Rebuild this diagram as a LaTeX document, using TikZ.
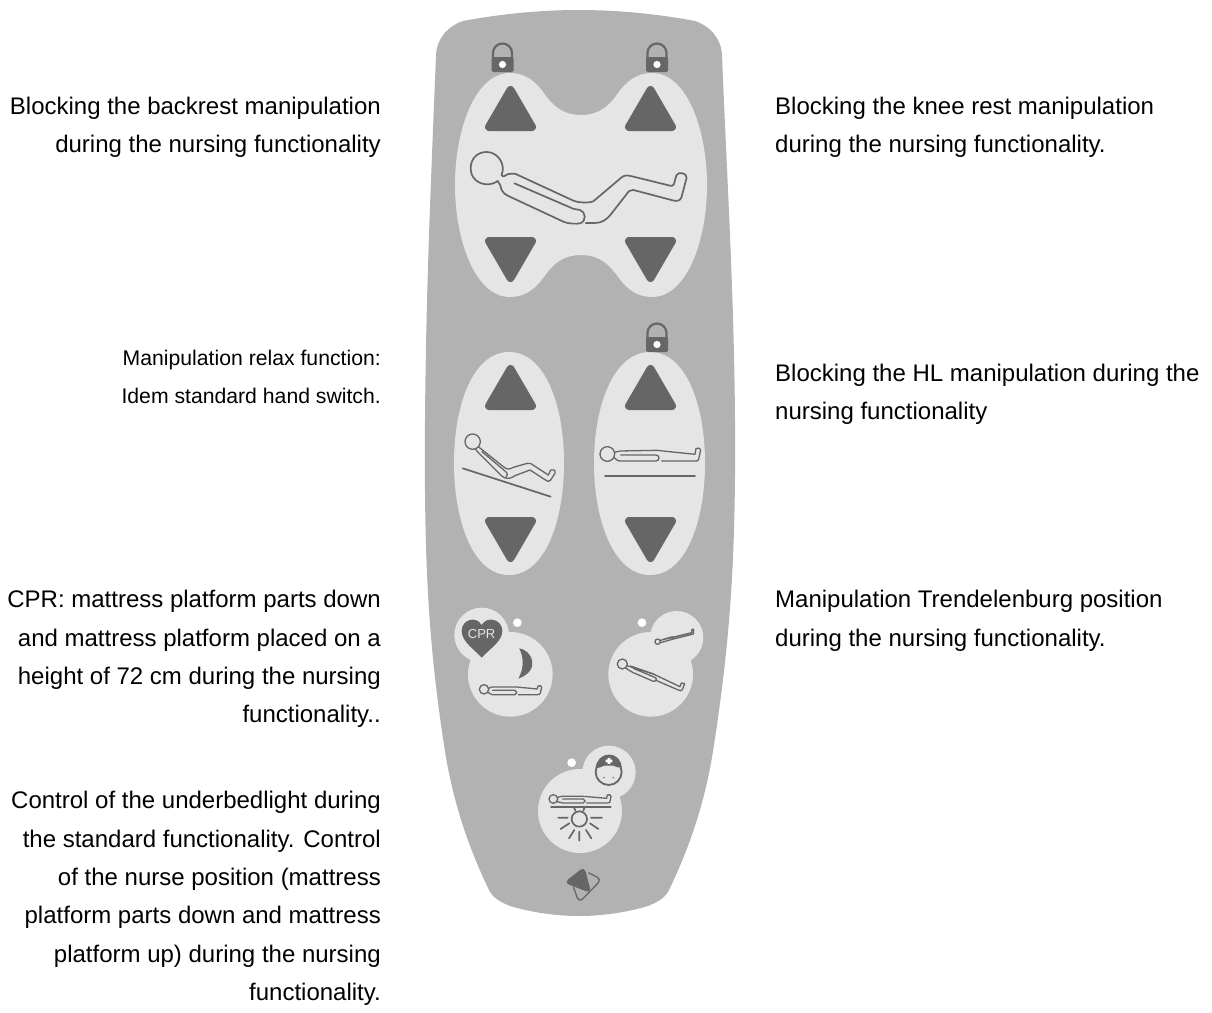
\documentclass[tikz,border=0pt]{standalone}
\usepackage{fontspec}
\setmainfont{Liberation Sans}
\definecolor{panelc}{HTML}{B2B2B2}
\definecolor{padc}{HTML}{E5E5E5}
\definecolor{darkc}{HTML}{666666}
\tikzset{
  lbl/.style={text=black,inner sep=0pt,font=\fontsize{24}{38.4}\selectfont},
  lblr/.style={lbl,anchor=north east,align=right},
  lbll/.style={lbl,anchor=north west,align=left},
  lblsmall/.style={lblr,font=\fontsize{21.2}{38.4}\selectfont},
  pad/.style={fill=padc,draw=none},
  led/.style={fill=white,draw=none},
  tri/.style={fill=darkc,draw=darkc,line width=8pt,line join=round},
  fig/.style={draw=darkc,line width=1.7pt,line cap=round,line join=round,fill=none},
  figthin/.style={draw=darkc,line width=1.3pt,line cap=round,line join=round,fill=none},
  z1/.style={shift={(420,0)},x=0.3333pt,y=-0.3333pt},
  z2/.style={shift={(420,310)},x=0.3333pt,y=-0.3333pt},
  z3/.style={shift={(420,590)},x=0.3333pt,y=-0.3333pt},
}
\newcommand{\uptri}[2]{\draw[tri] (#1,#2+4) -- (#1+21.5,#2+41) -- (#1-21.5,#2+41) -- cycle;}
\newcommand{\dntri}[2]{\draw[tri] (#1,#2-4) -- (#1+21.5,#2-41) -- (#1-21.5,#2-41) -- cycle;}
\newcommand{\padlock}[2]{%
  \draw[darkc,line width=2.2pt] (#1-9.5,#2+16) -- (#1-9.5,#2+11) arc[start angle=180,end angle=360,radius=9.5] -- (#1+9.5,#2+16);
  \fill[darkc,rounded corners=1.5pt] (#1-11,#2+15) rectangle (#1+11,#2+30);
  \fill[white] (#1,#2+22.5) circle[radius=3.6];}
\begin{document}
\begin{tikzpicture}[x=1pt,y=-1pt]
\useasboundingbox (0,0) rectangle (1212,1012);
% panel
\fill[panelc] (579,10) .. controls (535,10) and (495,15) .. (463,21)
  .. controls (448,26) and (437,38) .. (436,55)
  .. controls (431,180) and (426,290) .. (425,420)
  .. controls (424,560) and (428,640) .. (444,745)
  .. controls (453,805) and (470,850) .. (488,888)
  .. controls (492,897) and (498,901) .. (510,906)
  .. controls (530,912) and (555,916) .. (579,916)
  .. controls (603,916) and (628,912) .. (648,906)
  .. controls (660,901) and (666,897) .. (670,888)
  .. controls (688,850) and (705,805) .. (714,745)
  .. controls (730,640) and (736,560) .. (735,420)
  .. controls (734,290) and (727,180) .. (722,55)
  .. controls (721,38) and (710,26) .. (695,21)
  .. controls (663,15) and (623,10) .. (579,10) -- cycle;
% top pad
\fill[pad] (581,115) .. controls (565,115) and (555,108) .. (546,96)
  .. controls (536,81) and (525,73) .. (510,73)
  .. controls (475,73) and (455,130) .. (455,185)
  .. controls (455,240) and (475,297) .. (510,297)
  .. controls (525,297) and (536,289) .. (546,274)
  .. controls (555,262) and (565,255) .. (581,255)
  .. controls (597,255) and (607,262) .. (616,274)
  .. controls (626,289) and (637,297) .. (652,297)
  .. controls (687,297) and (707,240) .. (707,185)
  .. controls (707,130) and (687,73) .. (652,73)
  .. controls (637,73) and (626,81) .. (616,96)
  .. controls (607,108) and (597,115) .. (581,115) -- cycle;
% oval pads
\fill[pad] (509,352) .. controls (545,352) and (564,405) .. (564,463) .. controls (564,521) and (545,575) .. (509,575) .. controls (473,575) and (454,521) .. (454,463) .. controls (454,405) and (473,352) .. (509,352) -- cycle;
\fill[pad] (650,352) .. controls (686,352) and (705,405) .. (705,463) .. controls (705,521) and (686,575) .. (650,575) .. controls (614,575) and (594,521) .. (594,463) .. controls (594,405) and (614,352) .. (650,352) -- cycle;
% locks
\padlock{502.5}{42}
\padlock{657}{42}
\padlock{657}{322}
% triangles
\uptri{510.5}{86}\uptri{650.5}{86}
\dntri{510.5}{282}\dntri{650.5}{282}
\uptri{510.5}{365}\uptri{650.5}{365}
\dntri{510.5}{562}\dntri{650.5}{562}
% large figure
\begin{scope}[z1]
\draw[fig] (233,543) .. controls (225,549) and (215,553) .. (200,553) .. controls (175,552) and (152,535) .. (152,505) .. controls (152,478) and (170,456) .. (200,456) .. controls (232,456) and (258,490) .. (245,525) .. controls (250,535) and (255,525) .. (265,522) -- (285,521) -- (460,602) .. controls (475,608) and (505,610) .. (520,604) -- (605,532) .. controls (615,525) and (620,526) .. (632,528) -- (750,557) .. controls (762,560) and (763,550) .. (765,540) -- (770,525) .. controls (775,515) and (800,518) .. (800,533) -- (785,590) .. controls (782,603) and (770,605) .. (758,601) -- (640,570) .. controls (630,568) and (625,575) .. (618,585) -- (575,640) .. controls (560,660) and (545,669) .. (525,669) -- (497,669);
\draw[fig] (233,543) .. controls (242,550) and (240,560) .. (245,570) .. controls (250,580) and (255,583) .. (265,588) -- (430,665) .. controls (445,672) and (470,672) .. (480,670) .. controls (500,665) and (498,635) .. (480,630) .. controls (470,628) and (460,628) .. (450,622) -- (283,550);
\end{scope}
\begin{scope}[z2]
\draw[figthin] (158,395) circle[radius=23];
\draw[figthin] (176,411) -- (250,470) .. controls (262,480) and (270,478) .. (280,472) -- (322,460) .. controls (330,458) and (335,462) .. (342,467) -- (385,495) -- (392,480) .. controls (398,476) and (408,480) .. (405,490) -- (392,510) .. controls (388,516) and (383,515) .. (378,511) -- (330,480) -- (285,497) .. controls (275,505) and (258,510) .. (245,498) -- (175,428) -- (166,417);
\draw[figthin] (186,425) -- (255,483) .. controls (265,490) and (262,498) .. (258,502);
\draw[fig] (128,475) -- (392,560);
\draw[figthin] (562,432) circle[radius=22];
\draw[figthin] (584,427) -- (600,423) -- (710,421) -- (825,433) -- (828,416) .. controls (832,412) and (842,414) .. (842,420) -- (836,448) .. controls (835,452) and (832,453) .. (828,453) -- (725,453);
\draw[figthin] (581,442) .. controls (590,445) and (588,453) .. (600,453) -- (708,453) .. controls (720,452) and (720,436) .. (708,435) -- (602,435);
\draw[fig] (555,498) -- (825,498);
\end{scope}
\begin{scope}[z3]
% CPR pad
\fill[pad] (185,135) circle[radius=82];
\fill[pad] (271,253) circle[radius=127];
\fill[pad] (225,150) -- (280,150) -- (200,240) -- (170,200) -- cycle;
\fill[darkc] (185,203) .. controls (160,175) and (125,155) .. (125,122) .. controls (125,90) and (168,75) .. (185,105) .. controls (202,75) and (247,90) .. (247,122) .. controls (247,155) and (210,175) .. (185,203) -- cycle;
\node[inner sep=0pt,text=padc,font=\fontsize{13}{13}\selectfont] (cprtext) at (185,131) {CPR};
\fill[darkc] (298,175) .. controls (335,180) and (365,240) .. (295,266) .. controls (312,235) and (312,205) .. (298,175) -- cycle;
\fill[led] (292,98) circle[radius=13];
\draw[figthin] (192,298) circle[radius=14];
\draw[figthin] (206,295) -- (215,291) -- (290,291) -- (352,297) -- (354,288) .. controls (358,286) and (366,287) .. (365,292) -- (361,309) .. controls (360,313) and (357,314) .. (352,314) -- (295,314);
\draw[figthin] (204,306) .. controls (210,310) and (210,314) .. (218,314) -- (285,314) .. controls (292,313) and (292,302) .. (285,301) -- (218,301);
% tilt pad
\fill[pad] (770,143) circle[radius=80];
\fill[pad] (692,253) circle[radius=127];
\fill[pad] (700,135) -- (760,215) -- (810,215) -- (790,150) -- cycle;
\fill[led] (666,98) circle[radius=13];
\draw[figthin] (713,155) circle[radius=8];
\draw[figthin] (721,151) -- (815,128) -- (816,118) -- (821,118) -- (820,132) -- (760,147) (722,158) -- (760,147) -- (758,140) -- (730,148);
\draw[figthin] (607,222) circle[radius=15];
\draw[figthin] (621,227) -- (700,252) -- (780,290) -- (784,279) -- (794,281) -- (787,299) .. controls (785,303) and (780,303) .. (775,300) -- (710,272);
\draw[figthin] (617,234) .. controls (625,238) and (630,245) .. (640,248) -- (700,274) .. controls (710,275) and (712,264) .. (704,262) -- (640,235) (632,228) -- (700,252);
% nurse pad
\fill[pad] (567,547) circle[radius=80];
\fill[pad] (480,663) circle[radius=126];
\fill[pad] (500,560) -- (560,610) -- (590,640) -- (600,600) -- cycle;
\fill[led] (455,518) circle[radius=13];
\fill[darkc] (527,533) .. controls (530,510) and (545,494) .. (567,494) .. controls (590,494) and (604,510) .. (605,533) .. controls (595,535) and (590,530) .. (580,527) -- (552,527) .. controls (545,530) and (538,535) .. (527,533) -- cycle;
\draw[draw=darkc,line width=1.8pt] (566,546) circle[radius=39];
\fill[white] (563,504) rectangle (571,522) (557,509) rectangle (577,517);
\fill[darkc] (552,563) circle[radius=2.5] (580,563) circle[radius=2.5];
\draw[figthin] (400,627) circle[radius=13];
\draw[figthin] (413,622) -- (425,619) -- (490,619) -- (560,625) -- (562,615) .. controls (566,613) and (574,614) .. (573,619) -- (570,635) .. controls (569,638) and (566,639) .. (562,639) -- (500,639);
\draw[figthin] (412,635) .. controls (418,638) and (420,639) .. (428,639) -- (490,639) .. controls (497,638) and (497,628) .. (490,627) -- (428,627);
\draw[fig] (393,650) -- (572,650);
\draw[fig] (462,652) -- (466,662) (494,652) -- (490,662);
\draw[fig] (478,687) circle[radius=23];
\draw[fig] (415,683) -- (443,683) (513,683) -- (546,683) (422,717) -- (448,700) (535,717) -- (510,700) (447,745) -- (463,720) (514,745) -- (498,720) (478,725) -- (478,752);
% logo
\draw[darkc,line width=1.3pt,line join=round,rounded corners=5pt] (505,848) -- (545,868) -- (477,938) -- (460,890);
\fill[darkc,rounded corners=5pt] (432,878) -- (493,830) -- (514,910) -- cycle;
\end{scope}
% labels
\node[lblr] (backrest) at (381,97) {Blocking the backrest manipulation\\during the nursing functionality};
\node[lbll] (knee) at (775,97) {Blocking the knee rest manipulation\\during the nursing functionality.};
\node[lblsmall] (relax) at (381,350) {Manipulation relax function:\\Idem standard hand switch.};
\node[lbll] (hl) at (775,364) {Blocking the HL manipulation during the\\nursing functionality};
\node[lblr] (cpr) at (381,590) {CPR: mattress platform parts down\\and mattress platform placed on a\\height of 72 cm during the nursing\\functionality..};
\node[lbll] (trend) at (775,590) {Manipulation Trendelenburg position\\during the nursing functionality.};
\node[lblr] (light) at (381,791) {Control of the underbedlight during\\the standard functionality. Control\\of the nurse position (mattress\\platform parts down and mattress\\platform up) during the nursing\\functionality.};
\end{tikzpicture}
\end{document}
